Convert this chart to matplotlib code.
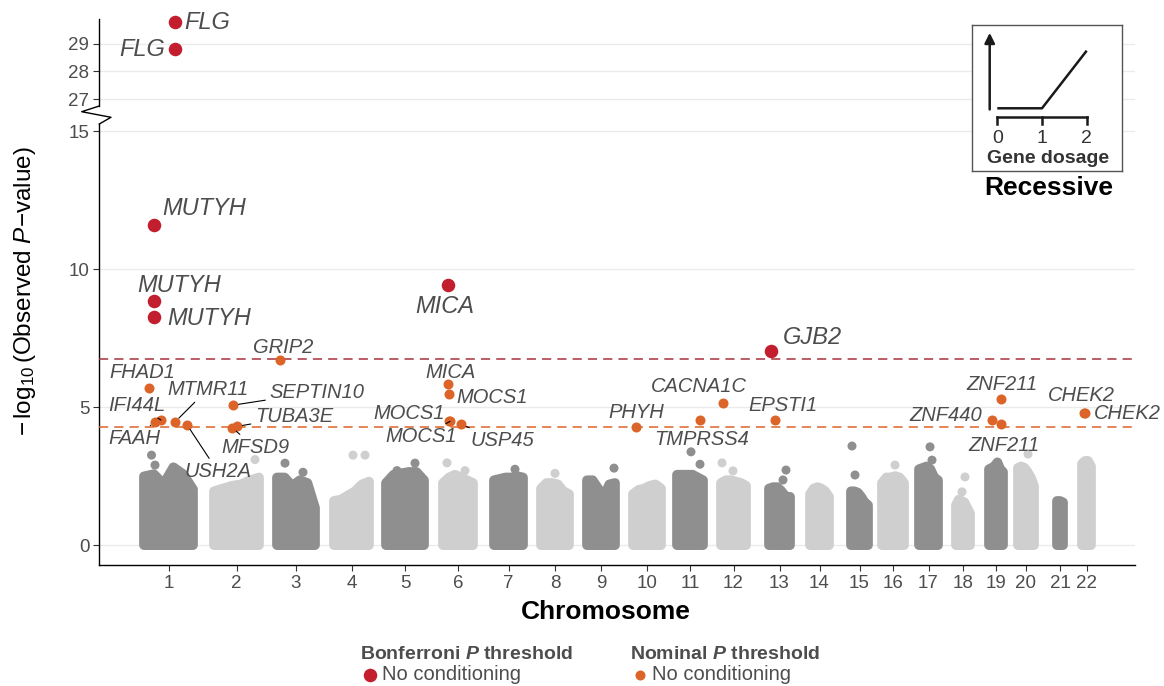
import numpy as np
import matplotlib
matplotlib.use("Agg")
import matplotlib.pyplot as plt

plt.rcParams["font.family"] = ["Liberation Sans", "DejaVu Sans"]
plt.rcParams["mathtext.fontset"] = "custom"
plt.rcParams["mathtext.rm"] = "Liberation Sans"
plt.rcParams["mathtext.it"] = "Liberation Sans:italic"
plt.rcParams["mathtext.bf"] = "Liberation Sans:bold"
plt.rcParams["mathtext.bfit"] = "Liberation Sans:italic:bold"

# ---------------- data ----------------
chromosomes = [str(i) for i in range(1, 23)]
# cumulative genomic span of each chromosome (plot position units)
chrom_start = [45, 115, 178, 235, 287, 344, 395, 442, 488, 534, 578,
               622, 670, 711, 752, 783, 820, 857, 890, 919, 958, 983]
chrom_end = [94, 160, 216, 270, 325, 374, 424, 470, 516, 562, 604,
             647, 691, 730, 769, 805, 839, 871, 904, 935, 964, 992]

# upper envelope (-log10 P) of the dense cloud of non-significant tests
cloud_profile = [
    [2.49, 2.57, 2.21, 2.82, 2.57, 2.02],
    [1.95, 2.05, 2.15, 2.20, 2.35, 2.45],
    [2.45, 2.45, 2.15, 2.35, 2.25, 1.35],
    [1.60, 1.65, 1.80, 1.95, 2.20, 2.30],
    [2.25, 2.55, 2.60, 2.65, 2.65, 2.35],
    [2.25, 2.45, 2.55, 2.45, 2.35, 2.25],
    [2.35, 2.40, 2.45, 2.45, 2.50, 2.45],
    [2.05, 2.25, 2.25, 2.20, 1.95, 1.85],
    [2.35, 2.35, 2.05, 1.75, 2.20, 2.25],
    [1.85, 2.00, 2.05, 2.15, 2.20, 2.05],
    [2.55, 2.55, 2.55, 2.55, 2.45, 2.35],
    [2.25, 2.35, 2.35, 2.30, 2.25, 2.15],
    [2.05, 2.10, 2.10, 1.95, 1.75, 1.75],
    [1.85, 2.05, 2.10, 2.05, 1.95, 1.75],
    [1.95, 1.95, 1.90, 1.75, 1.55, 1.45],
    [2.25, 2.45, 2.45, 2.50, 2.45, 2.25],
    [2.75, 2.80, 2.85, 2.75, 2.45, 2.35],
    [1.45, 1.65, 1.60, 1.55, 1.35, 1.15],
    [2.75, 2.80, 2.85, 3.00, 2.75, 2.65],
    [2.80, 2.85, 2.80, 2.65, 2.45, 2.15],
    [1.60, 1.60, 1.55],
    [2.95, 3.05, 3.05, 2.85],
]

# isolated background tests above the cloud
bg_chrom = [1, 1, 2, 3, 3, 4, 4, 5, 5, 6, 6, 7, 8, 9, 11, 11, 12, 12, 13, 13,
            15, 15, 16, 17, 17, 18, 18, 20]
bg_pos = [52.5, 56, 156, 186, 204, 254, 266, 316, 298, 348, 366, 416, 456, 515,
          592, 601, 623, 634, 687, 684, 753, 756, 796, 831, 833, 866, 863, 929]
bg_logp = [3.26, 2.90, 3.10, 2.97, 2.64, 3.26, 3.26, 2.97, 2.70, 2.98, 2.70,
           2.75, 2.60, 2.79, 3.38, 2.93, 2.98, 2.69, 2.72, 2.36, 3.59, 2.54,
           2.90, 3.56, 3.08, 2.47, 1.93, 3.30]

# Bonferroni-significant genes
bonf_genes = ["FLG", "FLG", "MUTYH", "MUTYH", "MUTYH", "MICA", "GJB2"]
bonf_pos = [76, 76, 55, 55, 55, 349, 672]
bonf_logp = [29.8, 28.8, 11.59, 8.84, 8.26, 9.42, 7.05]

# nominally significant genes
nom_genes = ["GRIP2", "FHAD1", "SEPTIN10", "IFI44L", "FAAH", "MTMR11", "USH2A",
             "TUBA3E", "MFSD9", "MICA", "MOCS1", "MOCS1", "MOCS1", "USP45",
             "PHYH", "TMPRSS4", "CACNA1C", "EPSTI1", "ZNF211", "ZNF440",
             "ZNF211", "CHEK2", "CHEK2"]
nom_pos = [181, 50, 134, 62, 56, 76, 88, 138, 133, 349, 350, 350, 351, 362,
           537, 601, 624, 676, 902, 893, 902, 985, 986]
nom_logp = [6.70, 5.68, 5.07, 4.53, 4.47, 4.46, 4.36, 4.30, 4.26, 5.83, 5.47,
            4.50, 4.48, 4.37, 4.29, 4.55, 5.16, 4.52, 5.29, 4.55, 4.38, 4.79, 4.79]

bonf_threshold = 6.76
nominal_threshold = 4.27

y_ticks = [0, 5, 10, 15, 27, 28, 29]

# inset schematic: recessive dosage model
dosage = [0, 1, 2]
effect = [0, 0, 1]

# ---------------- layout (label placement, pixels) ----------------
bonf_label_off = [(32, -1), (-33, 0), (50, 17), (25, 16), (55, -1), (-3, -21), (41, 13)]
nom_label_off = [(3, 13), (-7, 16), (84, 13), (-24, 15), (-21, -17), (33, 33),
                 (31, -47), (57, 10), (23, -20), (2, 12), (43, -3), (-40, 7),
                 (-29, -15), (41, -16), (0, 14), (2, -20), (-24, 16), (8, 15),
                 (1, 15), (-46, 4), (3, -21), (-3, 17), (42, -1)]
nom_leader = [False, False, True, True, True, True, True, True, True, False,
              False, False, True, True, False, False, False, False, False,
              False, False, False, False]

RED = "#c21e2e"
ORANGE = "#dc6428"
DARK = "#8f8f8f"
LIGHT = "#cfcfcf"
TXT = "#4d4d4d"

# ---------------- broken y scale ----------------
GAP = 1.16
def fwd(v):
    v = np.asarray(v, dtype=float)
    return np.where(v <= 15, v,
                    np.where(v >= 27, v - 12 + GAP, 15 + (v - 15) * GAP / 12))

def inv(t):
    t = np.asarray(t, dtype=float)
    return np.where(t <= 15, t,
                    np.where(t >= 15 + GAP, t + 12 - GAP, 15 + (t - 15) * 12 / GAP))

W, H = 1164, 686
fig = plt.figure(figsize=(W / 100, H / 100), dpi=100)
ax = fig.add_axes([99 / W, (H - 565) / H, 1036 / W, 546 / H])
ax.set_yscale("function", functions=(fwd, inv))
ax.set_xlim(0, 1036)
ax.set_ylim(-0.72, 29.9)

for s in ["top", "right", "left"]:
    ax.spines[s].set_visible(False)
ax.spines["bottom"].set_linewidth(1.0)

ax.set_yticks(y_ticks)
ax.set_yticklabels([str(t) for t in y_ticks])
centers = [(a + b) / 2 for a, b in zip(chrom_start, chrom_end)]
ax.set_xticks(centers)
ax.set_xticklabels(chromosomes)
ax.tick_params(axis="both", labelsize=13.5, labelcolor=TXT, color="#333333",
               length=4, width=0.8, pad=3)
ax.yaxis.grid(True, color="#ebebeb", lw=1.0)
ax.set_axisbelow(True)

# left axis line with break mark
yb = lambda p: (565 - p) / 546
xb = lambda p: (p - 99) / 1036
ax.plot([0, 0], [0, yb(124)], transform=ax.transAxes, color="black", lw=1.0, clip_on=False)
ax.plot([0, 0], [yb(106), 1], transform=ax.transAxes, color="black", lw=1.0, clip_on=False)
ax.plot([xb(99.3), xb(81.7), xb(111), xb(99.3)], [yb(106), yb(111.7), yb(117.3), yb(124)],
        transform=ax.transAxes, color="black", lw=1.0, clip_on=False)

# background cloud
for i, (a, b, prof) in enumerate(zip(chrom_start, chrom_end, cloud_profile)):
    c = DARK if i % 2 == 0 else LIGHT
    xs = np.linspace(a, b, len(prof))
    ax.fill(np.r_[a, xs, b], np.r_[0, prof, 0], facecolor=c, edgecolor=c,
            lw=7, joinstyle="round", zorder=2)
bg_col = [DARK if (c - 1) % 2 == 0 else LIGHT for c in bg_chrom]
ax.scatter(bg_pos, bg_logp, s=42, c=bg_col, lw=0, zorder=2)

# thresholds
ax.axhline(bonf_threshold, color="#a8323c", lw=1.1, ls=(0, (6, 4)), zorder=3)
ax.axhline(nominal_threshold, color=ORANGE, lw=1.1, ls=(0, (6, 4)), zorder=3)

# significant points
sc_nom = ax.scatter(nom_pos, nom_logp, s=52, c=ORANGE, lw=0, zorder=4,
                    label="No conditioning")
sc_bonf = ax.scatter(bonf_pos, bonf_logp, s=95, c=RED, lw=0, zorder=5,
                     label="No conditioning", clip_on=False)

for g, x, y, off in zip(bonf_genes, bonf_pos, bonf_logp, bonf_label_off):
    ax.annotate(g, (x, y), xytext=off, textcoords="offset pixels", ha="center",
                va="center", fontsize=17, style="italic", color=TXT, zorder=6,
                annotation_clip=False)
for g, x, y, off, ld in zip(nom_genes, nom_pos, nom_logp, nom_label_off, nom_leader):
    ap = dict(arrowstyle="-", color="black", lw=0.8, shrinkA=1, shrinkB=4) if ld else None
    ax.annotate(g, (x, y), xytext=off, textcoords="offset pixels", ha="center",
                va="center", fontsize=14.5, style="italic", color=TXT, zorder=6,
                arrowprops=ap)

# axis titles
fig.text(606 / W, 1 - 612 / H, "Chromosome", ha="center", va="center",
         fontsize=19, fontweight="bold")
fig.text(25 / W, 1 - 291 / H, r"$-\,\log_{10}$(Observed $P$$-$value)", ha="center",
         va="center", rotation=90, fontsize=17.5)

# legends
leg_kw = dict(loc="upper left", frameon=False, alignment="left", fontsize=14.5,
              title_fontproperties={"weight": "bold", "size": 14},
              handletextpad=0.1, handlelength=1.0, borderpad=0,
              labelcolor=TXT, labelspacing=0.1)
leg1 = fig.legend(handles=[sc_bonf], labels=["No conditioning"],
                  title=r"Bonferroni $\mathbfit{P}$ threshold",
                  bbox_to_anchor=(350 / W, 1 - 636 / H), **leg_kw)
leg1.get_title().set_color(TXT)
leg2 = fig.legend(handles=[sc_nom], labels=["No conditioning"],
                  title=r"Nominal $\mathbfit{P}$ threshold",
                  bbox_to_anchor=(620 / W, 1 - 636 / H), **leg_kw)
leg2.get_title().set_color(TXT)

# inset schematic
iax = fig.add_axes([972 / W, 1 - 171 / H, 150 / W, 146 / H], zorder=10)
iax.set_facecolor("white")
iax.set_xlim(-0.566, 2.79)
iax.set_ylim(-1.089, 1.446)
iax.set_xticks([])
iax.set_yticks([])
for s in iax.spines.values():
    s.set_color("#555555")
    s.set_linewidth(1.0)
iax.plot(dosage, effect, color="#1a1a1a", lw=1.8, solid_capstyle="butt")
iax.annotate("", xy=(-0.17, 1.31), xytext=(-0.17, -0.02),
             arrowprops=dict(arrowstyle="-|>,head_length=0.6,head_width=0.3",
                             color="#1a1a1a", lw=1.8, shrinkA=0, shrinkB=0))
iax.plot([dosage[0], dosage[-1]], [-0.156, -0.156], color="#1a1a1a", lw=1.8)
for d in dosage:
    iax.plot([d, d], [-0.156, -0.27], color="#1a1a1a", lw=1.8)
    iax.text(d, -0.52, str(d), ha="center", va="center", fontsize=14, color="#333333")
iax.text(1.13, -0.88, "Gene dosage", ha="center", va="center", fontsize=14,
         fontweight="bold", color="#333333")
fig.text(1049 / W, 1 - 188 / H, "Recessive", ha="center", va="center",
         fontsize=19, fontweight="bold")

fig.savefig("out.png", dpi=100)
